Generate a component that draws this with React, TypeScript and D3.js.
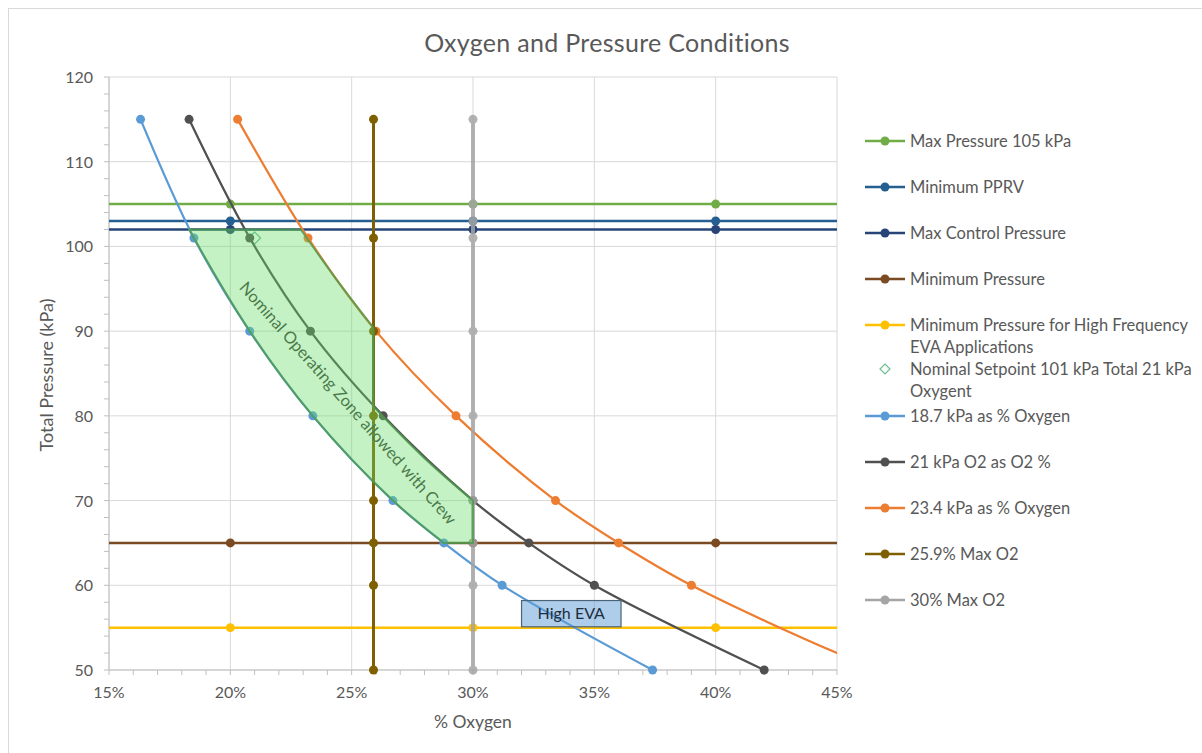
import React from "react";
import * as d3 from "d3";

// ---------- data ----------
const xTicks = [15, 20, 25, 30, 35, 40, 45];
const yTicks = [50, 60, 70, 80, 90, 100, 110, 120];

// horizontal limit series: % O2 positions of the points
const hLineX = [10, 20, 30, 40, 50];
const maxPressure105 = 105;
const minimumPPRV = 103;
const maxControlPressure = 102;
const minimumPressure = 65;
const minPressureEVA = 55;

// nominal setpoint
const setpointO2 = [21];
const setpointP = [101];

// curve series
const p187 = [115, 101, 90, 80, 70, 65, 60, 50];
const o2_187 = [16.3, 18.5, 20.8, 23.4, 26.7, 28.8, 31.2, 37.4];
const p21 = [115, 101, 90, 80, 70, 65, 60, 50];
const o2_21 = [18.3, 20.8, 23.3, 26.3, 30.0, 32.3, 35.0, 42.0];
const p234 = [115, 101, 90, 80, 70, 65, 60, 52, 50];
const o2_234 = [20.3, 23.2, 26.0, 29.3, 33.4, 36.0, 39.0, 45.0, 46.8];

// vertical series
const max259 = 25.9;
const p259 = [115, 101, 90, 80, 70, 65, 60, 50];
const max30 = 30;
const p30 = [115, 105, 103, 101, 90, 80, 70, 65, 60, 50];

// annotation zone outline pieces (in % O2, kPa)
const zoneTop = [[18.3, 102], [22.9, 102]];
const zoneEdge234 = [[22.9, 102], [24.4, 96], [25.9, 90.4]];
const zoneEdge259 = [[25.9, 90.4], [25.9, 81.1]];
const zoneEdge21 = [[25.9, 81.1], [28.0, 75], [30.0, 70]];
const zoneEdge30 = [[30.0, 70], [30.0, 65], [28.8, 65]];
const zoneEdge187 = [[28.8, 65], [26.7, 70], [23.4, 80], [20.8, 90], [18.3, 102]];

const zoneLabel = "Nominal Operating Zone allowed with Crew";
const zoneLabelPos = [24.8, 81.4];
const evaBox = { x0: 32.0, x1: 36.1, y0: 58.2, y1: 55.1 };
const evaLabel = "High EVA";

const legendItems = [
  { lines: ["Max Pressure 105 kPa"], color: "#70AD47", kind: "line" },
  { lines: ["Minimum PPRV"], color: "#255E91", kind: "line" },
  { lines: ["Max Control Pressure"], color: "#264478", kind: "line" },
  { lines: ["Minimum Pressure"], color: "#7A4A22", kind: "line" },
  { lines: ["Minimum Pressure for High Frequency", "EVA Applications"], color: "#FFC000", kind: "line" },
  { lines: ["Nominal  Setpoint 101 kPa Total 21 kPa", "Oxygent"], color: "#6CBF8F", kind: "diamond" },
  { lines: ["18.7 kPa as % Oxygen"], color: "#5B9BD5", kind: "line" },
  { lines: ["21 kPa O2 as O2 %"], color: "#505050", kind: "line" },
  { lines: ["23.4 kPa as % Oxygen"], color: "#ED7D31", kind: "line" },
  { lines: ["25.9% Max O2"], color: "#7F6000", kind: "line" },
  { lines: ["30% Max O2"], color: "#A5A5A5", kind: "line" },
];
const legendRows = [141, 187, 233, 279, 325, 369, 416, 462, 508, 554, 600];

const FONT = "Lato, 'Open Sans', sans-serif";

export default function App() {
  const W = 1202, H = 753;
  const left = 109, right = 837, top = 77, bottom = 670;
  const x = d3.scaleLinear().domain([15, 45]).range([left, right]);
  const y = d3.scaleLinear().domain([50, 120]).range([bottom, top]);

  const smooth = d3.line<number[]>().x(d => x(d[0])).y(d => y(d[1])).curve(d3.curveCatmullRom.alpha(0.5));
  const straight = d3.line<number[]>().x(d => x(d[0])).y(d => y(d[1]));

  const zonePath =
    straight(zoneTop)! +
    smooth(zoneEdge234)!.replace(/^M/, "L") +
    straight(zoneEdge259)!.replace(/^M/, "L") +
    smooth(zoneEdge21)!.replace(/^M/, "L") +
    straight(zoneEdge30)!.replace(/^M/, "L") +
    smooth(zoneEdge187)!.replace(/^M/, "L") + "Z";

  const hSeries = [
    { v: maxPressure105, c: "#70AD47" },
    { v: minimumPPRV, c: "#255E91" },
    { v: maxControlPressure, c: "#264478" },
    { v: minimumPressure, c: "#7A4A22" },
    { v: minPressureEVA, c: "#FFC000" },
  ];
  const curves = [
    { xs: o2_187, ps: p187, c: "#5B9BD5" },
    { xs: o2_21, ps: p21, c: "#505050" },
    { xs: o2_234, ps: p234, c: "#ED7D31", markerCount: 7 },
  ];

  const minorX = d3.range(15, 45.01, 1);
  const minorY = d3.range(50, 120.01, 2);

  const [lx, ly] = zoneLabelPos;
  const angle = 48.5;

  return (
    <svg width={W} height={H} style={{ position: "absolute", left: 0, top: 0, background: "#fff" }} fontFamily={FONT}>
      <defs>
        <clipPath id="plot">
          <rect x={left} y={top - 10} width={right - left} height={bottom - top + 20} />
        </clipPath>
      </defs>
      <rect x={8.5} y={8.5} width={1300} height={800} fill="#fff" stroke="#d9d9d9" />
      <text x={607} y={52} textAnchor="middle" fontSize={25} fill="#595959" letterSpacing={0.3}>Oxygen and Pressure Conditions</text>

      {/* gridlines */}
      {yTicks.map(t => (
        <line key={"gy" + t} x1={left} x2={right} y1={y(t)} y2={y(t)} stroke="#d9d9d9" strokeWidth={1} />
      ))}
      {xTicks.map(t => (
        <line key={"gx" + t} x1={x(t)} x2={x(t)} y1={top} y2={bottom} stroke="#d9d9d9" strokeWidth={1} />
      ))}
      {/* axes */}
      <line x1={left} x2={left} y1={top} y2={bottom} stroke="#bfbfbf" />
      <line x1={left} x2={right} y1={bottom} y2={bottom} stroke="#bfbfbf" />
      {minorY.map(t => (
        <line key={"ty" + t} x1={left - 5} x2={left} y1={y(t)} y2={y(t)} stroke="#bfbfbf" />
      ))}
      {minorX.map(t => (
        <line key={"tx" + t} x1={x(t)} x2={x(t)} y1={bottom} y2={bottom + 5} stroke="#bfbfbf" />
      ))}
      {yTicks.map(t => (
        <text key={"ly" + t} x={93} y={y(t) + 6} textAnchor="end" fontSize={16} fill="#595959">{t}</text>
      ))}
      {xTicks.map(t => (
        <text key={"lx" + t} x={x(t)} y={698} textAnchor="middle" fontSize={16} fill="#595959">{t}%</text>
      ))}
      <text x={473} y={728} textAnchor="middle" fontSize={17.5} fill="#595959">% Oxygen</text>
      <text transform={`translate(53,375) rotate(-90)`} textAnchor="middle" fontSize={18} fill="#595959">Total Pressure (kPa)</text>

      <g clipPath="url(#plot)">
        {/* horizontal series */}
        {hSeries.map((s, i) => (
          <g key={"h" + i}>
            <path d={straight(hLineX.map(v => [v, s.v]))!} fill="none" stroke={s.c} strokeWidth={2.5} />
            {hLineX.map(v => (
              <circle key={v} cx={x(v)} cy={y(s.v)} r={4.5} fill={s.c} />
            ))}
          </g>
        ))}
        {/* setpoint */}
        {setpointO2.map((v, i) => (
          <path key={"sp" + i} d={`M${x(v)},${y(setpointP[i]) - 6}l6,6l-6,6l-6,-6z`} fill="#fff" stroke="#6CBF8F" strokeWidth={1.3} />
        ))}
        {/* curves */}
        {curves.map((s, i) => (
          <g key={"c" + i}>
            <path d={smooth(s.xs.map((v, j) => [v, s.ps[j]]))!} fill="none" stroke={s.c} strokeWidth={2.25} />
            {s.xs.map((v, j) => (s.markerCount !== undefined && j >= s.markerCount) ? null : (
              <circle key={j} cx={x(v)} cy={y(s.ps[j])} r={4.5} fill={s.c} />
            ))}
          </g>
        ))}
        {/* 25.9 vertical */}
        <path d={straight(p259.map(p => [max259, p]))!} fill="none" stroke="#7F6000" strokeWidth={3} />
        {p259.map(p => <circle key={"v259" + p} cx={x(max259)} cy={y(p)} r={4.5} fill="#7F6000" />)}
        {/* 30 vertical */}
        <g opacity={0.85}>
          <path d={straight(p30.map(p => [max30, p]))!} fill="none" stroke="#A5A5A5" strokeWidth={4} />
          {p30.map(p => <circle key={"v30" + p} cx={x(max30)} cy={y(p)} r={4.5} fill="#A5A5A5" />)}
        </g>
      </g>

      {/* zone annotation */}
      <path d={zonePath} fill="#66dd66" fillOpacity={0.38} stroke="#4e9a4e" strokeOpacity={0.8} strokeWidth={2} />
      <text transform={`translate(${x(lx)},${y(ly)}) rotate(${angle})`} textAnchor="middle" dominantBaseline="middle" fontSize={16.5} fill="#4a7a4a">{zoneLabel}</text>

      {/* High EVA box */}
      <rect x={x(evaBox.x0)} y={y(evaBox.y0)} width={x(evaBox.x1) - x(evaBox.x0)} height={y(evaBox.y1) - y(evaBox.y0)} fill="#5b9bd5" fillOpacity={0.5} stroke="#4a6478" strokeWidth={1.2} />
      <text x={(x(evaBox.x0) + x(evaBox.x1)) / 2} y={(y(evaBox.y0) + y(evaBox.y1)) / 2 + 5.5} textAnchor="middle" fontSize={16} fill="#1f2d3d">{evaLabel}</text>

      {/* legend */}
      {legendItems.map((it, i) => {
        const ry = legendRows[i];
        return (
          <g key={"lg" + i}>
            {it.kind === "line" ? (
              <>
                <line x1={865} x2={905} y1={ry} y2={ry} stroke={it.color} strokeWidth={2.5} />
                <circle cx={885} cy={ry} r={4.5} fill={it.color} />
              </>
            ) : (
              <path d={`M885,${ry - 5}l5,5l-5,5l-5,-5z`} fill="#fff" stroke={it.color} strokeWidth={1.2} />
            )}
            {it.lines.map((ln, k) => (
              <text key={k} x={910} y={ry + 6 + k * 22} fontSize={16.5} fill="#595959">{ln}</text>
            ))}
          </g>
        );
      })}
    </svg>
  );
}
